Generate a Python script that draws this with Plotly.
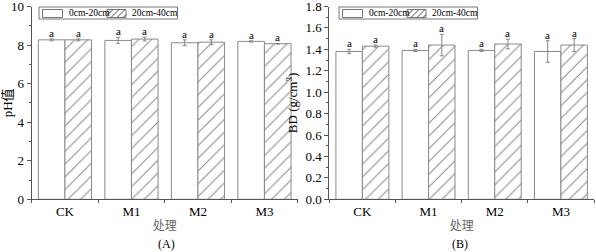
import plotly.graph_objects as go

categories = ["CK", "M1", "M2", "M3"]
ph_0_20 = [8.27, 8.24, 8.12, 8.19]
ph_0_20_err = [0.05, 0.16, 0.15, 0.03]
ph_20_40 = [8.27, 8.31, 8.15, 8.07]
ph_20_40_err = [0.05, 0.10, 0.12, 0.02]
bd_0_20 = [1.38, 1.39, 1.39, 1.38]
bd_0_20_err = [0.02, 0.01, 0.01, 0.10]
bd_20_40 = [1.43, 1.44, 1.45, 1.44]
bd_20_40_err = [0.01, 0.10, 0.045, 0.06]
letters_ph_0_20 = ["a", "a", "a", "a"]
letters_ph_20_40 = ["a", "a", "a", "a"]
letters_bd_0_20 = ["a", "a", "a", "a"]
letters_bd_20_40 = ["a", "a", "a", "a"]
series_names = ["0cm-20cm", "20cm-40cm"]

W, H = 596, 252
FONT = "Liberation Serif, Noto Sans CJK SC, serif"
EDGE = "#8a8a8a"
AX = "#555555"

def px(x):
    return x / W

def py(y):
    return 1 - y / H

fig = go.Figure()

def add_pair(xa, ya, v1, e1, v2, e2):
    fig.add_trace(go.Bar(
        x=categories, y=v1, name=series_names[0], xaxis=xa, yaxis=ya, showlegend=False,
        marker=dict(color="white", line=dict(color=EDGE, width=1)),
        error_y=dict(type="data", array=e1, color="#888888", thickness=1, width=2),
        offsetgroup="1"))
    fig.add_trace(go.Bar(
        x=categories, y=v2, name=series_names[1], xaxis=xa, yaxis=ya, showlegend=False,
        marker=dict(color="white", line=dict(color=EDGE, width=1),
                    pattern=dict(shape="/", fgcolor="#222222", bgcolor="white", size=9, solidity=0.13)),
        error_y=dict(type="data", array=e2, color="#888888", thickness=1, width=2),
        offsetgroup="2"))

add_pair("x", "y", ph_0_20, ph_0_20_err, ph_20_40, ph_20_40_err)
add_pair("x2", "y2", bd_0_20, bd_0_20_err, bd_20_40, bd_20_40_err)

ann = []
shapes = []

def letters(xref, yref, vals, errs, labs, shift):
    for i, (v, e, l) in enumerate(zip(vals, errs, labs)):
        ann.append(dict(x=i + shift, y=v + e, xref=xref, yref=yref, text=l,
                        showarrow=False, yanchor="bottom", xanchor="center", yshift=-2,
                        font=dict(family=FONT, size=11, color="black")))

letters("x", "y", ph_0_20, ph_0_20_err, letters_ph_0_20, -0.2)
letters("x", "y", ph_20_40, ph_20_40_err, letters_ph_20_40, 0.2)
letters("x2", "y2", bd_0_20, bd_0_20_err, letters_bd_0_20, -0.2)
letters("x2", "y2", bd_20_40, bd_20_40_err, letters_bd_20_40, 0.2)

for label, cx in (("(A)", 166), ("(B)", 460)):
    ann.append(dict(x=px(cx), y=py(244), xref="paper", yref="paper", text=label, showarrow=False,
                    xanchor="center", yanchor="middle",
                    font=dict(family=FONT, size=12, color="black")))

# hand-drawn legends (box, white swatch, hatched swatch, labels)
def legend_at(ox):
    shapes.append(dict(type="rect", xref="paper", yref="paper", x0=px(ox + 39), x1=px(ox + 177.5),
                       y0=py(19), y1=py(7), line=dict(color="#777", width=1), fillcolor="white"))
    shapes.append(dict(type="rect", xref="paper", yref="paper", x0=px(ox + 42.5), x1=px(ox + 62.5),
                       y0=py(17.5), y1=py(9.5), line=dict(color="#777", width=1), fillcolor="white"))
    ann.append(dict(x=px(ox + 67), y=py(13.2), xref="paper", yref="paper", text=series_names[0],
                    showarrow=False, xanchor="left", yanchor="middle",
                    font=dict(family=FONT, size=9.5, color="black")))
    hx0, hx1, hy0, hy1 = ox + 107, ox + 126, 9.5, 17.5
    shapes.append(dict(type="rect", xref="paper", yref="paper", x0=px(hx0), x1=px(hx1),
                       y0=py(hy1), y1=py(hy0), line=dict(color="#777", width=1), fillcolor="white"))
    for s in (hx0 - 2, hx0 + 4, hx0 + 10, hx0 + 16):
        a0 = max(s, hx0)
        b0 = min(s + 8, hx1)
        ya = hy1 - (a0 - s)
        yb = hy1 - (b0 - s)
        shapes.append(dict(type="line", xref="paper", yref="paper", x0=px(a0), x1=px(b0),
                           y0=py(ya), y1=py(yb), line=dict(color="#222", width=0.8)))
    ann.append(dict(x=px(ox + 130), y=py(13.2), xref="paper", yref="paper", text=series_names[1],
                    showarrow=False, xanchor="left", yanchor="middle",
                    font=dict(family=FONT, size=9.5, color="black")))

legend_at(0)
legend_at(300)

axis_common = dict(showline=True, linecolor=AX, linewidth=1, ticks="outside", ticklen=4,
                   tickcolor=AX, showgrid=False, zeroline=False, automargin=False,
                   ticklabeloverflow="allow",
                   tickfont=dict(family=FONT, size=13, color="black"))
xcommon = dict(axis_common, tickson="boundaries", ticklen=3, range=[-0.5, 3.5],
               title=dict(text="处理", font=dict(family=FONT, size=12, color="#666"), standoff=3))

ytop = py(6.5)
ybot = py(199.3)

fig.update_layout(
    width=W, height=H, margin=dict(l=0, r=0, t=0, b=0, autoexpand=False),
    paper_bgcolor="white", plot_bgcolor="white", showlegend=False,
    barmode="group", bargap=0.2, bargroupgap=0,
    xaxis=dict(xcommon, domain=[px(31.7), px(297.7)], anchor="y"),
    xaxis2=dict(xcommon, domain=[px(329.3), px(594)], anchor="y2"),
    yaxis=dict(axis_common, domain=[ybot, ytop], range=[0, 10], dtick=2, anchor="x",
               minor=dict(dtick=1, ticks="outside", ticklen=2, tickcolor=AX),
               title=dict(text="pH值", font=dict(family=FONT, size=13, color="black"), standoff=4)),
    yaxis2=dict(axis_common, domain=[ybot, ytop], range=[0, 1.8], dtick=0.2, tickformat=".1f", anchor="x2",
                minor=dict(dtick=0.1, ticks="outside", ticklen=2, tickcolor=AX),
                title=dict(text="BD (g/cm<sup>3</sup>)", font=dict(family=FONT, size=13, color="black"), standoff=4)),
    annotations=ann,
    shapes=shapes,
)

fig.write_html("out.html", config={"displayModeBar": False},
               post_script="document.body.style.margin='0';document.body.style.padding='0';")
